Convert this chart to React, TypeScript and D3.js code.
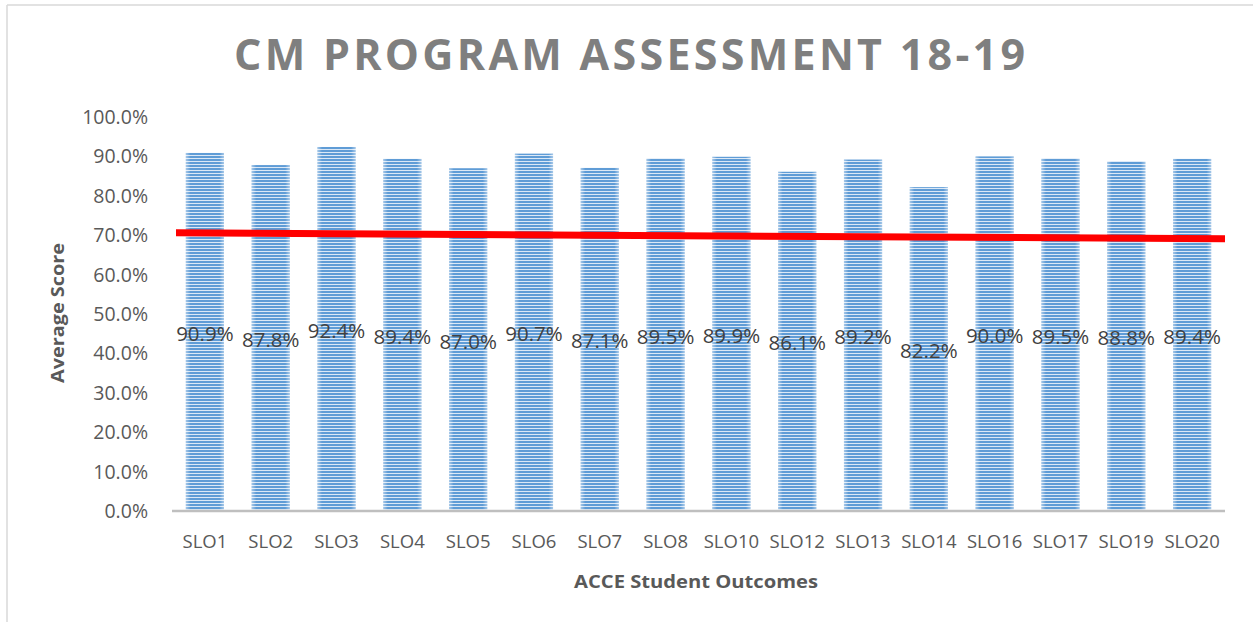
import * as d3 from "d3";

const categories = [
  "SLO1", "SLO2", "SLO3", "SLO4", "SLO5", "SLO6", "SLO7", "SLO8",
  "SLO10", "SLO12", "SLO13", "SLO14", "SLO16", "SLO17", "SLO19", "SLO20",
];
const scores = [
  90.9, 87.8, 92.4, 89.4, 87.0, 90.7, 87.1, 89.5,
  89.9, 86.1, 89.2, 82.2, 90.0, 89.5, 88.8, 89.4,
];
const yTicks = [0, 10, 20, 30, 40, 50, 60, 70, 80, 90, 100];
// red benchmark line, value at left and right end of the plot
const benchmark = [70.6, 69.1];

const W = 1253;
const H = 622;
const font = "'Open Sans', 'Noto Sans', sans-serif";

export default function App() {
  const x = d3.scaleBand<string>().domain(categories).range([172, 1225]).paddingInner(0.42).paddingOuter(0.21);
  const y = d3.scaleLinear().domain([0, 100]).range([511, 117]);
  const xLine = d3.scaleLinear().domain([0, benchmark.length - 1]).range([176, 1225]);
  const line = d3.line<number>().x((_, i) => xLine(i)).y((d) => y(d));

  return (
    <svg width={W} height={H} style={{ position: "absolute", left: 0, top: 0, background: "#fff" }}>
      <defs>
        <pattern id="stripes" width="6" height="3" patternUnits="userSpaceOnUse">
          <rect width="6" height="3" fill="#dbe8f6" />
          <rect width="6" height="2" fill="#5f9cd6" />
        </pattern>
        <linearGradient id="edge" x1="0" x2="1" y1="0" y2="0">
          <stop offset="0" stopColor="#fff" stopOpacity="0.45" />
          <stop offset="0.12" stopColor="#fff" stopOpacity="0" />
          <stop offset="0.88" stopColor="#fff" stopOpacity="0" />
          <stop offset="1" stopColor="#fff" stopOpacity="0.45" />
        </linearGradient>
      </defs>

      {/* chart frame */}
      <line x1={7} x2={7} y1={5} y2={H} stroke="#d9d9d9" strokeWidth={1.5} />
      <line x1={7} x2={W} y1={5} y2={5} stroke="#d9d9d9" strokeWidth={1.5} />

      <text x={234} y={70} fill="#7f7f7f" fontFamily={font} fontWeight={700} fontSize={43}
        textLength={791} lengthAdjust="spacing">
        CM PROGRAM ASSESSMENT 18-19
      </text>

      {yTicks.map((t) => (
        <text key={t} x={148} y={y(t) + 7} textAnchor="end" fill="#595959" fontFamily={font} fontSize={19.5}>
          {t.toFixed(1)}%
        </text>
      ))}

      {scores.map((v, i) => (
        <g key={categories[i]}>
          <rect x={x(categories[i])} y={y(v)} width={x.bandwidth()} height={y(0) - y(v)} fill="url(#stripes)" />
          <rect x={x(categories[i])} y={y(v)} width={x.bandwidth()} height={y(0) - y(v)} fill="url(#edge)" />
        </g>
      ))}

      <line x1={172} x2={1225} y1={y(0)} y2={y(0)} stroke="#bfbfbf" strokeWidth={2.5} />

      <path d={line(benchmark) || ""} stroke="#ff0000" strokeWidth={7} fill="none" />

      {scores.map((v, i) => (
        <text key={categories[i]} x={(x(categories[i]) || 0) + x.bandwidth() / 2} y={y(v / 2) + 9}
          textAnchor="middle" fill="#404040" fontFamily={font} fontSize={20.5}>
          {v.toFixed(1)}%
        </text>
      ))}

      {categories.map((c) => (
        <text key={c} x={(x(c) || 0) + x.bandwidth() / 2} y={548} textAnchor="middle"
          fill="#595959" fontFamily={font} fontSize={18.5}>
          {c}
        </text>
      ))}

      <text x={696} y={588} textAnchor="middle" fill="#595959" fontFamily={font} fontWeight={700}
        fontSize={18.5} textLength={244} lengthAdjust="spacingAndGlyphs">
        ACCE Student Outcomes
      </text>
      <text transform={`translate(64,313) rotate(-90)`} textAnchor="middle" fill="#595959" fontFamily={font}
        fontWeight={700} fontSize={18.5} textLength={140} lengthAdjust="spacingAndGlyphs">
        Average Score
      </text>
    </svg>
  );
}
